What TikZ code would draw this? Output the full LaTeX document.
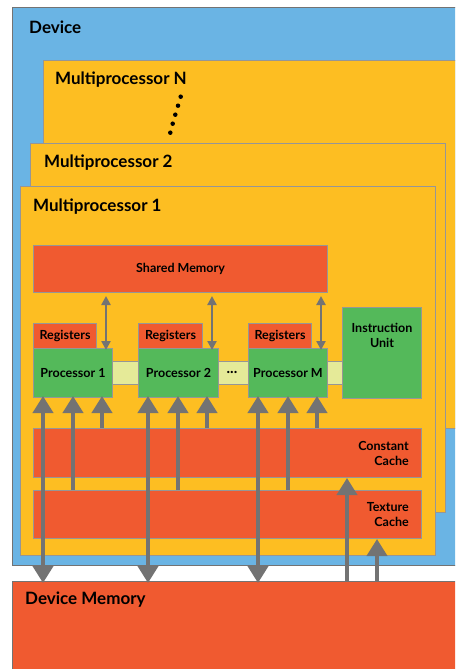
\documentclass[tikz,border=0pt]{standalone}
\usepackage{fontspec}
\setmainfont{Lato}
\usetikzlibrary{arrows.meta}
\definecolor{devblue}{RGB}{106,180,228}
\definecolor{mpyellow}{RGB}{253,190,34}
\definecolor{memred}{RGB}{240,90,48}
\definecolor{procgreen}{RGB}{84,185,90}
\definecolor{barlight}{RGB}{229,234,152}
\definecolor{edgegrey}{RGB}{150,150,150}
\definecolor{arrowgrey}{RGB}{115,115,115}
\tikzset{
  box/.style={draw=edgegrey, line width=1pt, anchor=north west, inner sep=0pt},
  title/.style={font=\bfseries\fontsize{17}{20}\selectfont, anchor=west, inner sep=0pt},
  small/.style={font=\bfseries\fontsize{12.5}{15}\selectfont, inner sep=0pt, align=center},
  bigarrow/.style={draw=arrowgrey, line width=4pt, -{Triangle[width=20pt,length=17pt]}},
  bigboth/.style={draw=arrowgrey, line width=4pt, {Triangle[width=20pt,length=17pt]}-{Triangle[width=20pt,length=17pt]}},
  thinboth/.style={draw=arrowgrey, line width=2.5pt, {Triangle[width=9pt,length=9pt]}-{Triangle[width=9pt,length=9pt]}},
  dot/.style={circle, fill=black, inner sep=0pt, minimum size=4.5pt}
}
\begin{document}
\begin{tikzpicture}[x=1pt,y=-1pt]
\useasboundingbox (0,0) rectangle (455,669);
\clip (0,0) rectangle (455,669);

% device and stacked multiprocessors
\node[box, fill=devblue, draw=arrowgrey, minimum width=470pt, minimum height=558pt] (dev) at (12,7) {};
\node[title] (devlbl) at (29,27) {Device};
\node[box, fill=mpyellow, minimum width=430pt, minimum height=368pt] (mpn) at (43,60) {};
\node[title] (mpnlbl) at (55,80) {Multiprocessor N};
\node[box, fill=mpyellow, minimum width=415pt, minimum height=369pt] (mp2) at (30,143) {};
\node[title] (mp2lbl) at (44,163) {Multiprocessor 2};
\node[box, fill=mpyellow, minimum width=415pt, minimum height=369pt] (mp1) at (20,186) {};
\node[title] (mp1lbl) at (33,207) {Multiprocessor 1};

% dots between multiprocessor N and 2
\foreach \i/\px/\py in {1/180.7/96.7, 2/178/105.7, 3/175.3/114.7, 4/172.7/123.7, 5/170.3/132.7}
  \node[dot] (d\i) at (\px,\py) {};

% shared memory
\node[box, fill=memred, minimum width=294pt, minimum height=47pt] (sm) at (33,245) {};
\node[small] (smlbl) at (sm.center) {Shared Memory};

% light interconnect bar
\node[box, fill=barlight, minimum width=230pt, minimum height=23pt] (bar) at (112,361) {};
\node[small, font=\bfseries\fontsize{15}{15}\selectfont] (ell) at (232,372) {...};

% registers and processors
\node[box, fill=memred, minimum width=63pt, minimum height=25pt] (r1) at (33,323) {};
\node[small] at (r1.center) {Registers};
\node[box, fill=procgreen, minimum width=79pt, minimum height=49pt] (p1) at (33,348) {};
\node[small] at (p1.center) {Processor 1};

\node[box, fill=memred, minimum width=64pt, minimum height=25pt] (r2) at (138,323) {};
\node[small] at (r2.center) {Registers};
\node[box, fill=procgreen, minimum width=80pt, minimum height=49pt] (p2) at (138,348) {};
\node[small] at (p2.center) {Processor 2};

\node[box, fill=memred, minimum width=63pt, minimum height=25pt] (rm) at (248,323) {};
\node[small] at (rm.center) {Registers};
\node[box, fill=procgreen, minimum width=79pt, minimum height=49pt] (pm) at (248,348) {};
\node[small] at (pm.center) {Processor M};

% instruction unit
\node[box, fill=procgreen, minimum width=79pt, minimum height=91pt] (iu) at (342,307) {};
\node[small, anchor=north] (iulbl) at ([yshift=-16pt]iu.north) {Instruction\\Unit};

% caches
\node[box, fill=memred, minimum width=388pt, minimum height=49pt] (cc) at (33,428) {};
\node[small, align=right, anchor=east] (cclbl) at ([xshift=-13pt]cc.east) {Constant\\Cache};
\node[box, fill=memred, minimum width=388pt, minimum height=48pt] (tc) at (33,490) {};
\node[small, align=right, anchor=east] (tclbl) at ([xshift=-13pt]tc.east) {Texture\\Cache};

% device memory
\node[box, fill=memred, draw=arrowgrey, minimum width=470pt, minimum height=100pt] (dm) at (12,581) {};
\node[title] (dmlbl) at (25,600) {Device Memory};

% shared memory <-> processors
\foreach \p in {p1,p2,pm}
  \draw[thinboth] ([xshift=-7pt]\p.north east |- sm.south) ++(0,3) -- ([xshift=-7pt,yshift=-2pt]\p.north east);

% device memory <-> processors
\foreach \p in {p1,p2,pm}
  \draw[bigboth] ([xshift=10pt,yshift=-2pt]\p.south west |- dm.north) -- ([xshift=10pt,yshift=2pt]\p.south west);

% texture cache -> processors
\foreach \p in {p1,p2,pm}
  \draw[bigarrow] ([xshift=40pt]\p.south west |- tc.north) -- ([xshift=40pt,yshift=2pt]\p.south west);

% constant cache -> processors
\foreach \p in {p1,p2,pm}
  \draw[bigarrow] ([xshift=69pt]\p.south west |- cc.north) -- ([xshift=69pt,yshift=2pt]\p.south west);

% device memory -> caches
\draw[bigarrow] (347,581) coordinate (dmc) -- (dmc |- cc.south);
\draw[bigarrow] (377,581) coordinate (dmt) -- (dmt |- tc.south);
\end{tikzpicture}
\end{document}
